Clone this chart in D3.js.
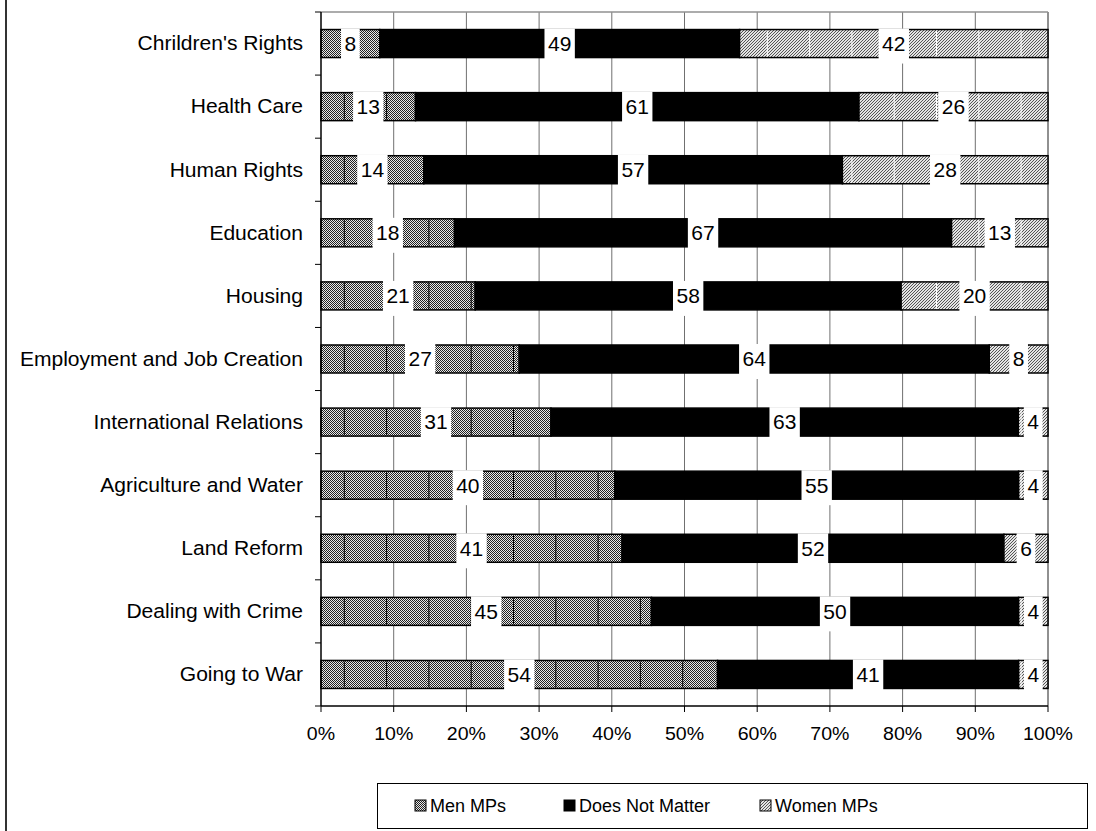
<!DOCTYPE html>
<html>
<head>
<meta charset="utf-8">
<script src="https://cdn.jsdelivr.net/npm/d3@7"></script>
<style>
  html, body { margin: 0; padding: 0; background: #fff; }
  svg { display: block; font-family: "Liberation Sans", Arial, sans-serif; }
</style>
</head>
<body>
<svg id="chart" width="1096" height="831"></svg>
<script>
// Issue areas, top to bottom
const categories = [
  "Chrildren's Rights", "Health Care", "Human Rights", "Education", "Housing",
  "Employment and Job Creation", "International Relations", "Agriculture and Water",
  "Land Reform", "Dealing with Crime", "Going to War"
];
// Share of respondents choosing each answer (labels show these values)
const menMPs        = [8, 13, 14, 18, 21, 27, 31, 40, 41, 45, 54];
const doesNotMatter = [49, 61, 57, 67, 58, 64, 63, 55, 52, 50, 41];
const womenMPs      = [42, 26, 28, 13, 20, 8, 4, 4, 6, 4, 4];
const seriesNames   = ["Men MPs", "Does Not Matter", "Women MPs"];
const seriesKeys    = ["men", "dnm", "women"];
const xTickValues   = [0, 0.1, 0.2, 0.3, 0.4, 0.5, 0.6, 0.7, 0.8, 0.9, 1.0];

const rows = categories.map((c, i) => ({
  cat: c, men: menMPs[i], dnm: doesNotMatter[i], women: womenMPs[i]
}));

const svg = d3.select("#chart");
const plot = { left: 321, top: 12, right: 1048, bottom: 706 };

// Text placed at (x, y) with an optional horizontal stretch around its anchor
function stretchedText(g, x, y, str, size, sx, anchor) {
  return g.append("text")
    .attr("transform", `translate(${x},${y}) scale(${sx},1)`)
    .attr("dy", "0.35em").attr("text-anchor", anchor)
    .attr("font-size", size).attr("fill", "#000").text(str);
}

// Fill textures
const defs = svg.append("defs");
const pMen = defs.append("pattern").attr("id", "fill-men")
  .attr("patternUnits", "userSpaceOnUse").attr("width", 2).attr("height", 2);
pMen.append("rect").attr("width", 2).attr("height", 2).attr("fill", "#e8e8e8");
pMen.append("rect").attr("x", 0).attr("y", 0).attr("width", 1).attr("height", 1).attr("fill", "#222");
pMen.append("rect").attr("x", 1).attr("y", 1).attr("width", 1).attr("height", 1).attr("fill", "#222");

const pWomen = defs.append("pattern").attr("id", "fill-women")
  .attr("patternUnits", "userSpaceOnUse").attr("width", 3).attr("height", 3);
pWomen.append("rect").attr("width", 3).attr("height", 3).attr("fill", "#e4e4e4");
for (let y = 0; y < 3; y++) {
  pWomen.append("rect").attr("x", (2 - y + 3) % 3).attr("y", y)
    .attr("width", 1).attr("height", 1).attr("fill", "#555");
}
const fills = { men: "url(#fill-men)", dnm: "#000", women: "url(#fill-women)" };
const seamColor = { men: "#000", women: "#fff" };

const x = d3.scaleLinear().domain([0, 1]).range([plot.left, plot.right]);
const y = d3.scaleBand().domain(categories).range([plot.top, plot.bottom])
  .paddingInner(0.556).paddingOuter(0.278);

// Gridlines and plot frame
const grid = svg.append("g");
grid.selectAll("line.g").data(xTickValues.slice(1)).join("line")
  .attr("x1", d => x(d)).attr("x2", d => x(d))
  .attr("y1", plot.top).attr("y2", plot.bottom)
  .attr("stroke", "#707070").attr("stroke-width", 1);
grid.append("line").attr("x1", plot.left).attr("x2", plot.right)
  .attr("y1", plot.top).attr("y2", plot.top)
  .attr("stroke", "#909090").attr("stroke-width", 1.5);
grid.append("line").attr("x1", plot.right).attr("x2", plot.right)
  .attr("y1", plot.top).attr("y2", plot.bottom)
  .attr("stroke", "#909090").attr("stroke-width", 2);

// 100% stacked bars
const stacked = d3.stack().keys(seriesKeys).offset(d3.stackOffsetExpand)(rows);
const segs = [];
stacked.forEach(layer => {
  layer.forEach(s => segs.push({
    key: layer.key, cat: s.data.cat, x0: s[0], x1: s[1], value: s.data[layer.key]
  }));
});

svg.append("g").selectAll("rect").data(segs).join("rect")
  .attr("x", d => x(d.x0)).attr("width", d => x(d.x1) - x(d.x0))
  .attr("y", d => y(d.cat)).attr("height", y.bandwidth())
  .attr("fill", d => fills[d.key])
  .attr("stroke", "#000").attr("stroke-width", 1.5);

// Tile seams in the fill texture
const seamStep = 42.3, seamStart = 23.3;
const seamX = d3.range(plot.left + seamStart, plot.right, seamStep);
const seamG = svg.append("g");
segs.filter(d => d.key !== "dnm").forEach(d => {
  const a = x(d.x0) + 1, b = x(d.x1) - 1;
  seamX.filter(sx => sx > a && sx < b).forEach(sx => {
    seamG.append("line")
      .attr("x1", sx).attr("x2", sx)
      .attr("y1", y(d.cat) + 1).attr("y2", y(d.cat) + y.bandwidth() - 1)
      .attr("stroke", seamColor[d.key]).attr("stroke-width", 1);
  });
});

// Value labels on white boxes
const labG = svg.append("g");
segs.forEach(d => {
  const cx = (x(d.x0) + x(d.x1)) / 2;
  const cy = y(d.cat) + y.bandwidth() / 2;
  const g = labG.append("g");
  const box = g.append("rect").attr("fill", "#fff");
  const t = g.append("text").attr("x", cx).attr("y", cy).attr("dy", "0.35em")
    .attr("text-anchor", "middle").attr("font-size", 21).text(d.value);
  const w = t.node().getComputedTextLength() + 7;
  box.attr("x", cx - w / 2).attr("width", w)
    .attr("y", cy - 15).attr("height", 35);
});

// Category axis
const yAxisG = svg.append("g");
yAxisG.append("line").attr("x1", plot.left).attr("x2", plot.left)
  .attr("y1", plot.top).attr("y2", plot.bottom).attr("stroke", "#000").attr("stroke-width", 1.5);
const yTicks = d3.range(categories.length + 1).map(i => plot.top + i * y.step());
yAxisG.selectAll("line.t").data(yTicks).join("line")
  .attr("x1", plot.left - 6).attr("x2", plot.left)
  .attr("y1", d => d).attr("y2", d => d).attr("stroke", "#000");
categories.forEach(c => {
  stretchedText(yAxisG, plot.left - 18, y(c) + y.bandwidth() / 2, c, 19.5, 1.08, "end");
});

// Percentage axis
const xAxisG = svg.append("g");
xAxisG.append("line").attr("x1", plot.left).attr("x2", plot.right)
  .attr("y1", plot.bottom).attr("y2", plot.bottom).attr("stroke", "#000").attr("stroke-width", 1.5);
xAxisG.selectAll("line.t").data(xTickValues).join("line")
  .attr("x1", d => x(d)).attr("x2", d => x(d))
  .attr("y1", plot.bottom).attr("y2", plot.bottom + 6).attr("stroke", "#000");
xTickValues.forEach(v => {
  stretchedText(xAxisG, x(v), plot.bottom + 27, d3.format(".0%")(v), 19, 1.03, "middle");
});

// Legend
const legend = svg.append("g");
legend.append("rect").attr("x", 377.5).attr("y", 783.5).attr("width", 710).attr("height", 45)
  .attr("fill", "#fff").attr("stroke", "#000").attr("stroke-width", 1);
const legendX = [415, 564, 760];
seriesKeys.forEach((k, i) => {
  legend.append("rect").attr("x", legendX[i]).attr("y", 800).attr("width", 11).attr("height", 11)
    .attr("fill", fills[k]).attr("stroke", "#000").attr("stroke-width", 1);
  stretchedText(legend, legendX[i] + 15, 806, seriesNames[i], 18, 1, "start");
});

// Outer frame edge
svg.append("line").attr("x1", 6).attr("x2", 6).attr("y1", 0).attr("y2", 831)
  .attr("stroke", "#333").attr("stroke-width", 2);
</script>
</body>
</html>
